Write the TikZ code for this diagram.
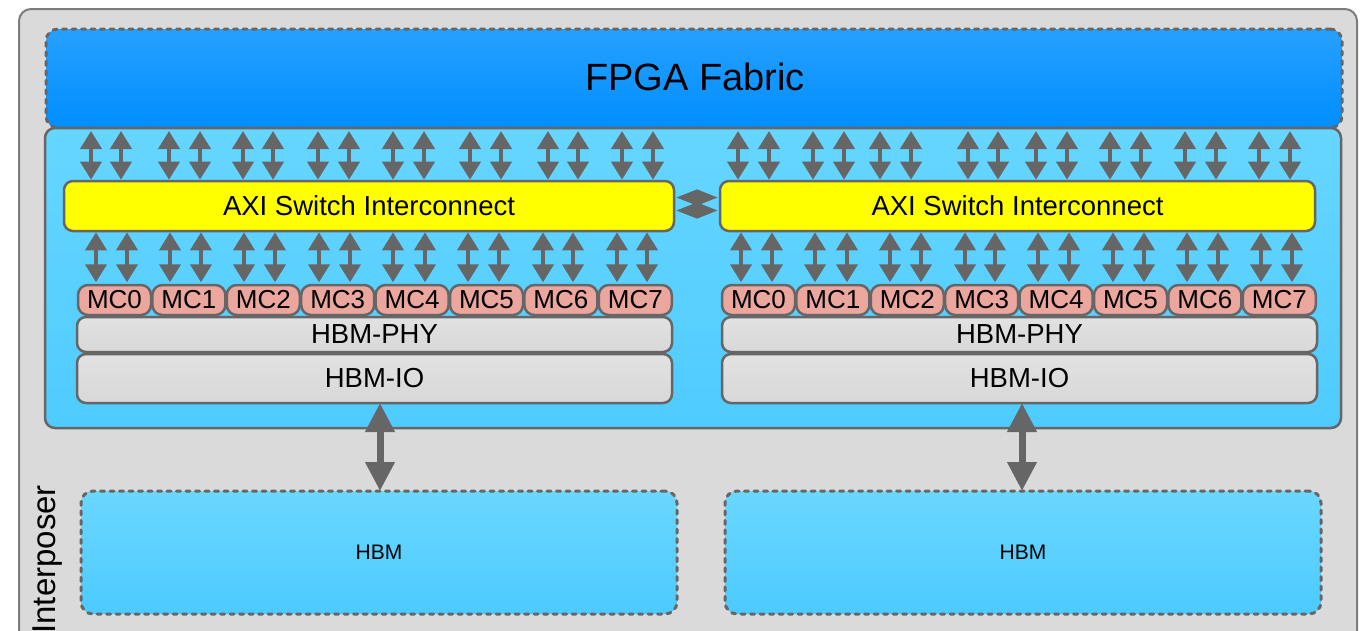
\documentclass[tikz,border=0pt]{standalone}
\usepackage{fontspec}
\setmainfont{Liberation Sans}
\usetikzlibrary{arrows.meta}

\definecolor{edgegray}{HTML}{666666}
\definecolor{intpfill}{HTML}{DADADA}
\definecolor{fabtop}{HTML}{26A0FF}
\definecolor{fabbot}{HTML}{008EFF}
\definecolor{paneltop}{HTML}{66D6FF}
\definecolor{panelbot}{HTML}{4FCBFF}
\definecolor{hbmtop}{HTML}{6AD7FF}
\definecolor{hbmbot}{HTML}{4CCAFF}
\definecolor{axifill}{HTML}{FFFF00}
\definecolor{mcfill}{HTML}{EBA69E}
\definecolor{phytop}{HTML}{E2E2E2}
\definecolor{phybot}{HTML}{D8D8D8}

\begin{document}
\begin{tikzpicture}[x=1pt,y=-1pt,
  every node/.style={inner sep=0pt, outer sep=0pt, anchor=north west},
  solidbox/.style={rectangle, draw=edgegray, line width=2.5pt},
  dashbox/.style={rectangle, draw=edgegray, line width=3pt, line cap=round,
    dash pattern=on 4pt off 5.5pt},
  interposer/.style={rectangle, draw=edgegray!85, line width=2pt, fill=intpfill,
    rounded corners=12pt},
  fabric/.style={dashbox, top color=fabtop, bottom color=fabbot, rounded corners=12pt},
  panel/.style={solidbox, top color=paneltop, bottom color=panelbot, rounded corners=10pt},
  axibox/.style={solidbox, fill=axifill, rounded corners=9pt, minimum height=50pt},
  mcbox/.style={solidbox, fill=mcfill, rounded corners=10pt, minimum width=73pt,
    minimum height=30pt},
  phybox/.style={solidbox, top color=phytop, bottom color=phybot, rounded corners=9pt,
    minimum width=595pt},
  hbmbox/.style={dashbox, top color=hbmtop, bottom color=hbmbot, rounded corners=12pt,
    minimum width=596pt, minimum height=123pt},
  lbl/.style={anchor=center, font=\fontsize{27.5pt}{30pt}\selectfont},
  mclbl/.style={anchor=center, font=\fontsize{26pt}{28pt}\selectfont},
  sarrow/.style={draw=edgegray, fill=edgegray, line width=4pt,
    {Triangle[width=21pt,length=18pt]}-{Triangle[width=21pt,length=18pt]}},
  marrow/.style={draw=edgegray, fill=edgegray, line width=4pt,
    {Triangle[width=15pt,length=21pt]}-{Triangle[width=15pt,length=21pt]}},
  barrow/.style={draw=edgegray, fill=edgegray, line width=7pt,
    {Triangle[width=28pt,length=29pt]}-{Triangle[width=28pt,length=29pt]}}
]
\useasboundingbox (0,0) rectangle (1360,630);
\clip (0,0) rectangle (1360,630);

% interposer carrier
\node[interposer, minimum width=1338pt, minimum height=640pt] (intp) at (19,9) {};
\node[rotate=90, anchor=base east, font=\fontsize{33pt}{35pt}\selectfont] (intplbl)
  at (55,485) {Interposer};

% fabric and hard block panel
\node[fabric, minimum width=1296pt, minimum height=99pt] (fab) at (46,29) {};
\node[font=\fontsize{38pt}{40pt}\selectfont, anchor=center] (fablbl) at (695,77) {FPGA Fabric};
\node[panel, minimum width=1296pt, minimum height=300pt] (panel) at (45,128) {};

% AXI switches
\node[axibox, minimum width=610pt] (axiL) at (64,181) {};
\node[axibox, minimum width=595pt] (axiR) at (720,181) {};
\node[lbl] (axiLt) at (axiL.center) {AXI Switch Interconnect};
\node[lbl] (axiRt) at (axiR.center) {AXI Switch Interconnect};

% memory controllers
\foreach \i in {0,...,7} {
  \node[mcbox] (mcL\i) at ({78+74.4*\i},285) {};
  \node[mclbl] at (mcL\i.center) {MC\i};
  \node[mcbox] (mcR\i) at ({722+74.4*\i},285) {};
  \node[mclbl] at (mcR\i.center) {MC\i};
}

% PHY and IO
\node[phybox, minimum height=35pt] (phyL) at (77,317) {};
\node[lbl] at (phyL.center) {HBM-PHY};
\node[phybox, minimum height=49pt] (ioL) at (77,354) {};
\node[lbl] at (ioL.center) {HBM-IO};
\node[phybox, minimum height=35pt] (phyR) at (722,317) {};
\node[lbl] at (phyR.center) {HBM-PHY};
\node[phybox, minimum height=49pt] (ioR) at (722,354) {};
\node[lbl] at (ioR.center) {HBM-IO};

% HBM stacks
\node[hbmbox] (hbmL) at (81,491) {};
\node[anchor=center, font=\fontsize{21pt}{23pt}\selectfont] at (hbmL.center) {HBM};
\node[hbmbox] (hbmR) at (725,491) {};
\node[anchor=center, font=\fontsize{21pt}{23pt}\selectfont] at (hbmR.center) {HBM};

% fabric <-> switch ports
\foreach \x in {91,121,169,200,243,273,318,349,393,424,470,501,548,578,622,653} {
  \coordinate (p) at (\x,0);
  \draw[sarrow] ([yshift=-3pt]fab.south -| p) -- ([yshift=1.3pt]axiL.north -| p);
}
\foreach \x in {738,769,813,844,880,911,968,998,1036,1067,1110,1141,1185,1216,1259,1290} {
  \coordinate (p) at (\x,0);
  \draw[sarrow] ([yshift=-3pt]fab.south -| p) -- ([yshift=1.3pt]axiR.north -| p);
}

% switch <-> memory controller ports
\foreach \i/\a/\b in {0/96/127,1/170/201,2/244/275,3/319/350,4/393/425,5/468/499,6/543/573,7/617/647} {
  \coordinate (pa) at (\a,0);
  \coordinate (pb) at (\b,0);
  \draw[sarrow] ([yshift=-1.3pt]axiL.south -| pa) -- ([yshift=2.7pt]mcL\i.north -| pa);
  \draw[sarrow] ([yshift=-1.3pt]axiL.south -| pb) -- ([yshift=2.7pt]mcL\i.north -| pb);
}
\foreach \i/\a/\b in {0/741/772,1/815/847,2/890/921,3/965/995,4/1038/1069,5/1113/1144,6/1187/1218,7/1261/1292} {
  \coordinate (pa) at (\a,0);
  \coordinate (pb) at (\b,0);
  \draw[sarrow] ([yshift=-1.3pt]axiR.south -| pa) -- ([yshift=2.7pt]mcR\i.north -| pa);
  \draw[sarrow] ([yshift=-1.3pt]axiR.south -| pb) -- ([yshift=2.7pt]mcR\i.north -| pb);
}

% switch <-> switch
\draw[marrow] ([xshift=2pt,yshift=8.5pt]axiL.east) -- ([xshift=-2pt,yshift=8.5pt]axiR.west);
\draw[marrow] ([xshift=2pt,yshift=-4.5pt]axiL.east) -- ([xshift=-2pt,yshift=-4.5pt]axiR.west);

% IO <-> HBM
\coordinate (bl) at (380,0);
\coordinate (br) at (1022,0);
\draw[barrow] (ioL.south -| bl) -- (hbmL.north -| bl);
\draw[barrow] (ioR.south -| br) -- (hbmR.north -| br);
\end{tikzpicture}
\end{document}
